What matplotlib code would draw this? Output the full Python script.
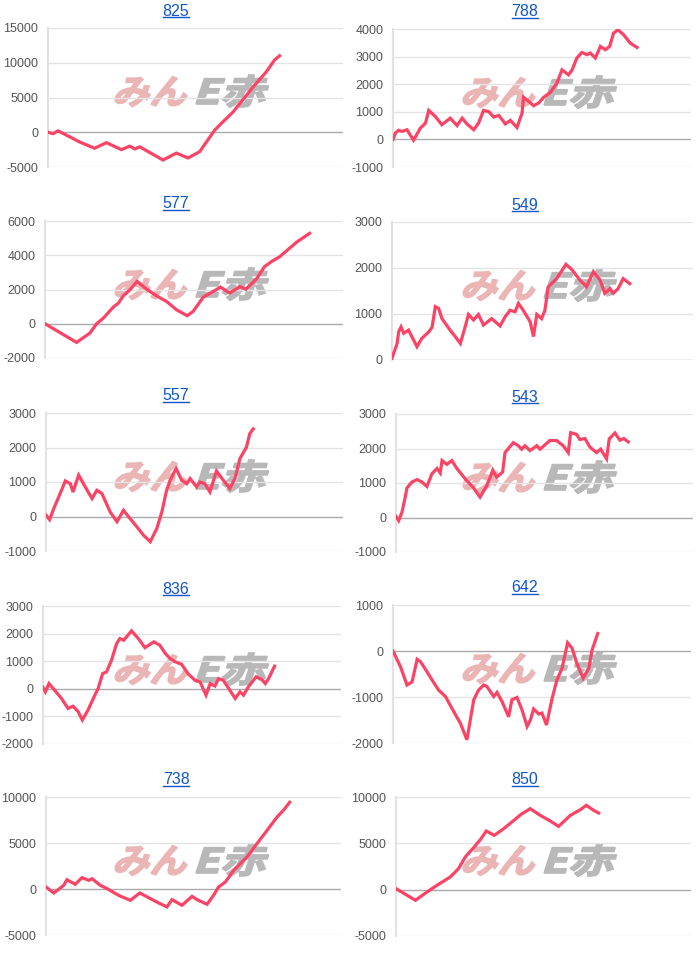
import numpy as np
import matplotlib
matplotlib.use("Agg")
import matplotlib.pyplot as plt
from matplotlib.lines import Line2D
from matplotlib.patches import PathPatch
from matplotlib.textpath import TextPath
from matplotlib.font_manager import FontProperties
from matplotlib.transforms import Affine2D

plt.rcParams['font.family'] = ['Liberation Sans', 'DejaVu Sans']

# ---- data (x = position along the period, 0..100) ----
titles = ["825", "788", "577", "549", "557", "543", "836", "642", "738", "850"]

x_825 = [0, 1.7, 3.4, 6.2, 10.7, 15.8, 19.8, 24.9, 27.7, 29.4, 31.1, 39.0, 43.5, 47.5,
         51.4, 56.5, 59.3, 62.7, 69.5, 74.0, 76.8, 78.5]
y_825 = [0, -200, 200, -400, -1400, -2300, -1500, -2500, -2000, -2400, -2100, -4000, -3000,
         -3700, -2800, 300, 1500, 2900, 6500, 8700, 10400, 11000]

x_788 = [0, 0.8, 1.9, 3.0, 4.7, 6.9, 9.2, 10.9, 12.0, 14.2, 16.4, 19.2, 21.5, 23.2, 24.8,
         27.1, 28.7, 30.4, 32.1, 33.8, 35.5, 37.7, 39.4, 41.6, 43.3, 43.8, 45.5, 47.2, 48.9,
         50.6, 52.8, 55.0, 56.7, 58.9, 60.1, 61.7, 63.4, 65.1, 66.2, 67.9, 69.6, 71.3, 72.7,
         74.0, 75.5, 77.4, 79.6, 81.9]
y_788 = [0, 230, 330, 290, 350, -30, 410, 590, 1050, 830, 530, 770, 500, 770, 560, 350, 590,
         1050, 1010, 810, 870, 560, 690, 430, 950, 1530, 1380, 1220, 1320, 1530, 1700, 2040,
         2520, 2340, 2520, 2950, 3150, 3070, 3130, 2950, 3370, 3250, 3370, 3850, 3970, 3790,
         3490, 3330]

x_577 = [0, 10.6, 15.1, 17.3, 19.6, 22.9, 24.6, 26.3, 28.5, 30.9, 34.1, 37.4, 40.8, 44.1,
         47.7, 49.7, 53.1, 56.4, 58.9, 62.0, 65.4, 67.4, 70.9, 73.7, 76.0, 78.8, 81.0, 84.4, 88.8]
y_577 = [0, -1090, -540, 0, 330, 970, 1200, 1630, 1980, 2470, 2020, 1630, 1300, 820, 470, 720,
         1550, 1880, 2140, 1790, 2170, 2020, 2600, 3340, 3630, 3920, 4250, 4760, 5280]

x_549 = [0, 1.7, 2.2, 3.0, 3.9, 5.5, 7.2, 8.3, 9.9, 12.2, 13.3, 14.4, 15.5, 16.6, 19.3, 21.0,
         22.7, 24.3, 25.4, 27.1, 28.7, 30.4, 33.1, 35.9, 37.6, 39.2, 40.9, 42.0, 43.6, 45.9,
         47.0, 48.1, 49.7, 50.8, 51.9, 54.7, 57.8, 59.7, 62.4, 64.6, 66.9, 69.1, 70.7, 72.4,
         73.5, 75.1, 76.8, 79.0]
y_549 = [40, 360, 610, 720, 580, 650, 430, 290, 470, 610, 710, 1160, 1120, 900, 650, 510, 360,
         720, 990, 870, 990, 760, 900, 740, 940, 1080, 1050, 1230, 1080, 830, 510, 990, 900,
         1080, 1590, 1770, 2080, 1970, 1740, 1590, 1920, 1740, 1450, 1550, 1450, 1550, 1770, 1660]

x_557 = [0, 1.2, 2.6, 4.3, 6.5, 8.2, 9.1, 11.0, 13.2, 15.5, 17.1, 18.8, 21.6, 23.9, 26.1, 28.3,
         30.6, 32.8, 35.1, 37.3, 39.0, 40.6, 41.8, 43.8, 45.7, 47.4, 48.5, 50.7, 51.8, 53.5,
         55.2, 57.4, 59.7, 61.9, 63.6, 65.3, 67.5, 68.6, 69.8]
y_557 = [40, -90, 230, 570, 1030, 950, 710, 1200, 860, 520, 760, 670, 130, -150, 180, -60, -300,
         -540, -730, -350, 130, 760, 1050, 1390, 1050, 950, 1100, 860, 1000, 950, 710, 1320,
         1050, 810, 1100, 1680, 2010, 2400, 2540]

x_543 = [0, 0.9, 2.0, 3.1, 3.7, 5.4, 7.1, 8.7, 10.4, 12.1, 13.8, 14.9, 15.5, 17.1, 18.8, 20.5,
         23.3, 26.1, 28.3, 30.6, 32.6, 33.9, 35.9, 36.7, 39.5, 41.2, 42.3, 43.4, 45.1, 47.4,
         48.5, 51.8, 54.1, 56.3, 58.0, 58.8, 60.8, 61.9, 63.6, 65.3, 67.5, 68.9, 70.9, 71.8,
         73.7, 75.4, 76.7, 78.2]
y_543 = [30, -90, 150, 590, 860, 1030, 1100, 1030, 900, 1270, 1420, 1290, 1650, 1540, 1650,
         1420, 1120, 860, 590, 930, 1370, 1170, 1320, 1880, 2170, 2080, 1980, 2080, 1940, 2080,
         1980, 2230, 2230, 2080, 1880, 2460, 2410, 2260, 2290, 2040, 1880, 1980, 1700, 2280,
         2450, 2240, 2290, 2190]

x_836 = [0, 0.8, 2.0, 3.9, 6.2, 8.4, 10.1, 11.8, 13.2, 15.1, 17.4, 18.5, 20.0, 21.3, 23.0,
         24.7, 25.8, 27.1, 29.7, 32.0, 34.2, 37.2, 39.2, 40.9, 42.6, 44.3, 46.5, 48.8, 51.0,
         52.7, 54.7, 56.1, 57.7, 58.9, 60.5, 64.5, 66.1, 67.3, 68.9, 71.5, 73.4, 74.6, 75.7, 77.7]
y_836 = [50, -110, 190, -50, -350, -710, -630, -830, -1130, -770, -230, 10, 550, 610, 1040,
         1640, 1820, 1760, 2100, 1820, 1490, 1700, 1580, 1300, 1100, 980, 890, 530, 310, 250,
         -230, 190, 100, 370, 310, -350, -110, -230, 70, 430, 340, 190, 370, 820]

x_642 = [0, 2.5, 4.7, 6.4, 8.1, 9.2, 11.4, 13.1, 15.3, 17.6, 20.4, 22.6, 24.8, 27.1, 28.7,
         30.4, 31.5, 33.8, 34.9, 36.6, 38.8, 39.9, 41.6, 43.3, 45.0, 46.1, 47.2, 48.9, 50.0,
         51.5, 53.4, 55.0, 56.7, 58.6, 60.1, 61.7, 63.8, 65.7, 66.8, 68.7]
y_642 = [0, -340, -740, -670, -180, -230, -450, -630, -850, -990, -1320, -1570, -1930, -1060,
         -850, -740, -770, -990, -900, -1100, -1430, -1060, -1010, -1280, -1640, -1500, -1260,
         -1370, -1350, -1610, -1030, -630, -380, 180, 60, -270, -590, -380, 20, 380]

x_738 = [0, 2.6, 4.6, 6.0, 7.1, 9.9, 12.2, 14.5, 15.6, 18.4, 20.7, 24.6, 28.6, 31.8, 35.4,
         38.2, 41.0, 42.7, 46.1, 49.5, 51.2, 54.6, 56.8, 58.5, 60.8, 63.6, 68.1, 71.5, 74.9,
         78.3, 80.6, 82.6]
y_738 = [220, -430, 40, 400, 1010, 510, 1230, 940, 1120, 400, 40, -690, -1230, -430, -1050,
         -1520, -1950, -1160, -1770, -800, -1160, -1660, -690, 220, 760, 2020, 3470, 4920,
         6360, 7810, 8600, 9430]

x_850 = [0, 6.6, 10.5, 13.9, 18.4, 21.2, 23.5, 26.3, 28.6, 30.6, 33.3, 36.5, 39.7, 42.4,
         45.5, 48.9, 52.3, 55.1, 59.1, 62.5, 64.5, 67.0, 68.7]
y_850 = [110, -1150, -250, 470, 1370, 2270, 3530, 4530, 5400, 6330, 5860, 6580, 7410, 8130,
         8740, 8020, 7410, 6830, 8020, 8630, 9100, 8560, 8270]

xs = [x_825, x_788, x_577, x_549, x_557, x_543, x_836, x_642, x_738, x_850]
ys = [y_825, y_788, y_577, y_549, y_557, y_543, y_836, y_642, y_738, y_850]

# y tick ranges: (min, max, step)
yticks = [(-5000, 15000, 5000), (-1000, 4000, 1000), (-2000, 6000, 2000), (0, 3000, 1000),
          (-1000, 3000, 1000), (-1000, 3000, 1000), (-2000, 3000, 1000), (-2000, 1000, 1000),
          (-5000, 10000, 5000), (-5000, 10000, 5000)]

# ---- layout (pixels: left, right, top, bottom of plot area) ----
W, H = 700, 960
rects = [(48, 343, 28, 167), (393, 691, 29, 167),
         (45, 343, 221, 358), (392, 693, 222, 360),
         (46, 343, 413, 551), (396, 693, 414, 552),
         (43, 341, 606, 744), (393, 691, 605, 743),
         (46, 341, 797, 935), (396, 691, 797, 936)]

line_color = '#fb4465'
fig = plt.figure(figsize=(W / 100, H / 100), dpi=100)

px = Affine2D().scale(1 / 100) + fig.dpi_scale_trans
wm_font = FontProperties(family='Noto Sans CJK JP', weight='bold')

titles_txt = []
for i, (l, r, t, b) in enumerate(rects):
    ax = fig.add_axes([l / W, 1 - b / H, (r - l) / W, (b - t) / H])
    lo, hi, st = yticks[i]
    ticks = np.arange(lo, hi + st, st)
    ax.set_ylim(lo, hi)
    ax.set_xlim(0, 100)
    ax.set_yticks(ticks)
    ax.set_yticklabels([str(v) for v in ticks])
    ax.set_xticks([])
    ax.tick_params(axis='y', length=0, pad=7, labelsize=9, labelcolor='#555555')
    ax.patch.set_alpha(0)
    for s in ['top', 'right', 'bottom']:
        ax.spines[s].set_visible(False)
    ax.spines['left'].set_color('#e2e2e2')
    ax.spines['left'].set_linewidth(1.5)
    for v in ticks:
        ax.axhline(v, color='#aaaaaa' if v == 0 else '#e4e4e4', lw=1, zorder=1)
    ax.plot(xs[i], ys[i], color=line_color, lw=2.3, zorder=3, solid_joinstyle='miter')
    ax.set_zorder(3)

    # watermark
    cx = 112 if i % 2 == 0 else 460
    base = H - (t + 76)
    p1 = TextPath((0, 0), "みん", size=36, prop=wm_font)
    p2 = TextPath((0, 0), "E赤", size=36, prop=wm_font)
    tr1 = Affine2D().skew_deg(14, 0).scale(1.03, 0.95).translate(cx, base) + px
    tr2 = Affine2D().skew_deg(14, 0).scale(1.25, 0.95).translate(cx + 80, base) + px
    fig.add_artist(PathPatch(p1, transform=tr1, facecolor='#ebb5b5', edgecolor='#ebb5b5',
                             lw=1.2, zorder=1))
    fig.add_artist(PathPatch(p2, transform=tr2, facecolor='#b8b8b8', edgecolor='#b8b8b8',
                             lw=1.2, zorder=1))

    tx = 176 if i % 2 == 0 else 525
    txt = fig.text(tx / W, 1 - (t - 17) / H, titles[i], ha='center', va='center',
                   fontsize=11.5, color='#1155cc', zorder=5)
    titles_txt.append(txt)

fig.canvas.draw()
rend = fig.canvas.get_renderer()
for txt in titles_txt:
    bb = txt.get_window_extent(rend)
    yy = (bb.y0 + 2) / H
    fig.add_artist(Line2D([bb.x0 / W, bb.x1 / W], [yy, yy], transform=fig.transFigure,
                          color='#1155cc', lw=1))

fig.savefig('out.png', dpi=100)
